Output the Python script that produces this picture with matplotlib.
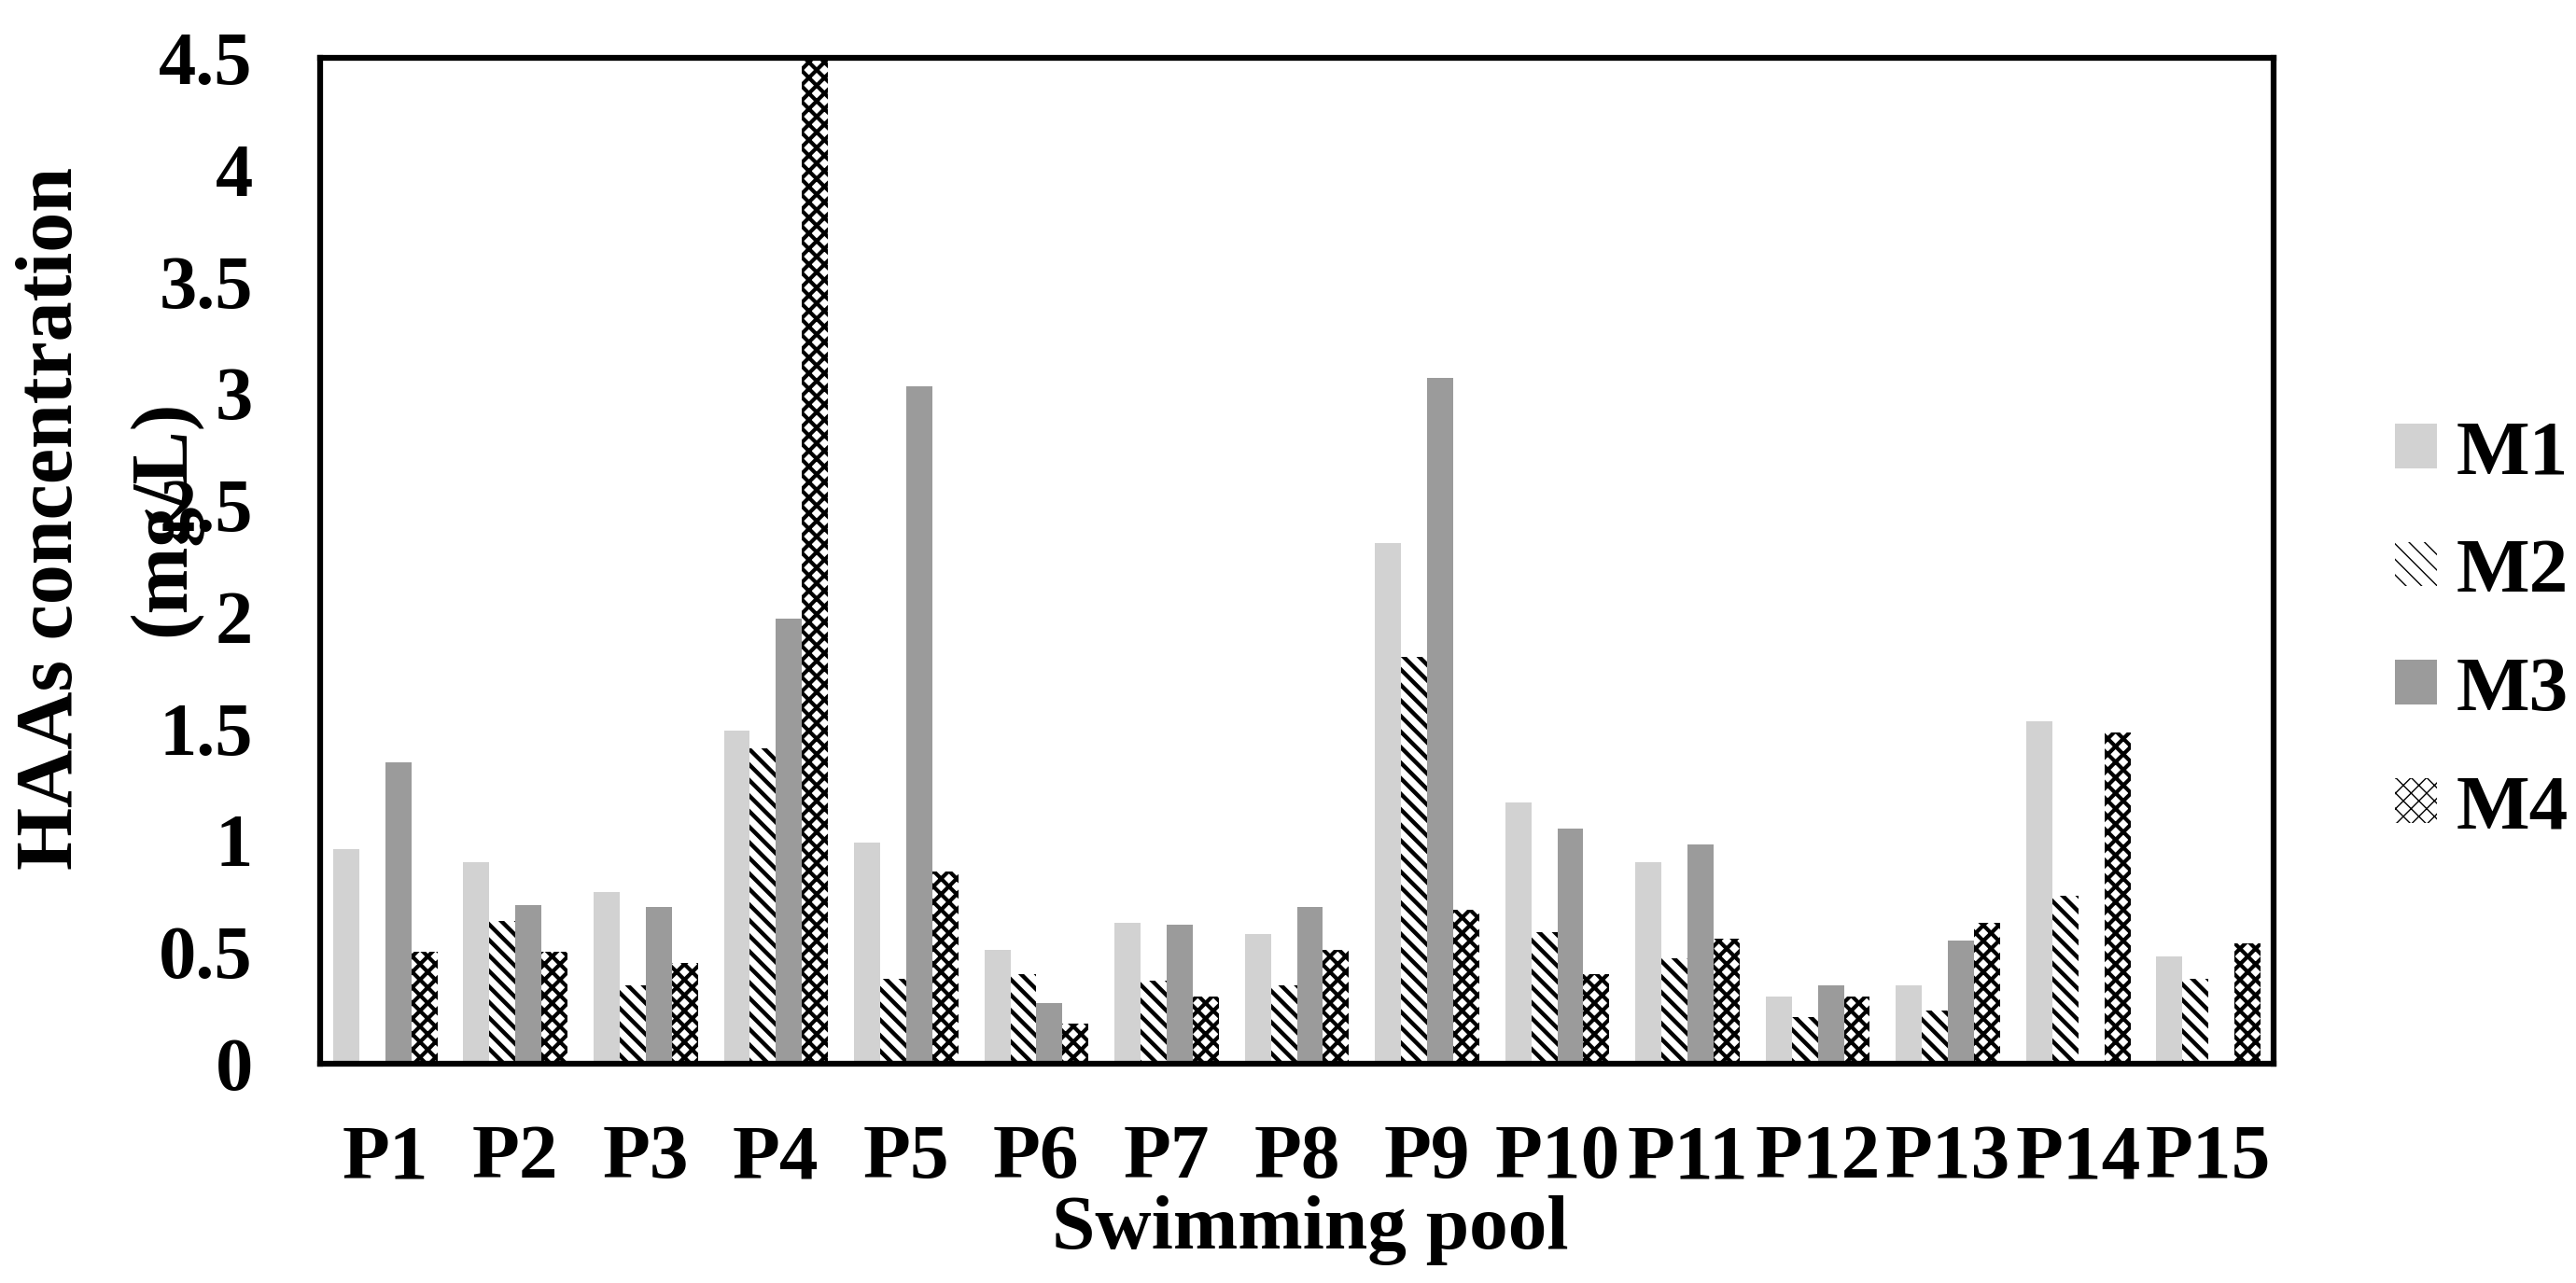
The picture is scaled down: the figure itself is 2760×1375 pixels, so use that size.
import numpy as np
import matplotlib
matplotlib.use('Agg')
import matplotlib.pyplot as plt

plt.rcParams['font.family'] = ['Liberation Serif', 'DejaVu Serif']
plt.rcParams['font.weight'] = 'bold'

pools = ['P1', 'P2', 'P3', 'P4', 'P5', 'P6', 'P7', 'P8',
         'P9', 'P10', 'P11', 'P12', 'P13', 'P14', 'P15']
m1 = [0.96, 0.90, 0.77, 1.49, 0.99, 0.51, 0.63, 0.58, 2.33, 1.17, 0.90, 0.30, 0.35, 1.53, 0.48]
m2 = [0.00, 0.64, 0.35, 1.41, 0.38, 0.40, 0.37, 0.35, 1.82, 0.59, 0.47, 0.21, 0.24, 0.75, 0.38]
m3 = [1.35, 0.71, 0.70, 1.99, 3.03, 0.27, 0.62, 0.70, 3.07, 1.05, 0.98, 0.35, 0.55, 0.00, 0.00]
m4 = [0.50, 0.50, 0.45, 4.60, 0.86, 0.18, 0.30, 0.51, 0.69, 0.40, 0.56, 0.30, 0.63, 1.48, 0.54]
series = ['M1', 'M2', 'M3', 'M4']
yticks = [0, 0.5, 1, 1.5, 2, 2.5, 3, 3.5, 4, 4.5]
ytick_labels = ['0', '0.5', '1', '1.5', '2', '2.5', '3', '3.5', '4', '4.5']

fig = plt.figure(figsize=(27.6, 13.75), dpi=100)
ax = fig.add_axes([343/2760, 1 - 1140/1375, (2436-343)/2760, (1140-62)/1375])

x = np.arange(len(pools))
w = 0.2
# fill colour / hatch for each series, and hatch line width
styles = [(dict(color='#d2d2d2'), 1.0),
          (dict(facecolor='white', edgecolor='black', hatch='\\\\', linewidth=0), 3.2),
          (dict(color='#9b9b9b'), 1.0),
          (dict(facecolor='white', edgecolor='black', hatch='xx', linewidth=0), 3.0)]
for i, (vals, name) in enumerate(zip([m1, m2, m3, m4], series)):
    kw, hlw = styles[i]
    with plt.rc_context({'hatch.linewidth': hlw}):
        ax.bar(x + (i - 1.5) * w, vals, w, label=name, **kw)

ax.set_xlim(-0.5, len(pools) - 0.5)
ax.set_ylim(0, 4.5)
ax.set_yticks(yticks)
ax.set_yticklabels(ytick_labels)
ax.set_xticks(x)
ax.set_xticklabels(pools)
ax.tick_params(axis='y', length=0, pad=52, labelsize=58)
ax.tick_params(axis='x', length=0, pad=47, labelsize=60)
for s in ax.spines.values():
    s.set_linewidth(4.5)

ax.set_xlabel('Swimming pool', fontsize=60, fontweight='bold')
ax.xaxis.set_label_coords(0.507, -0.131)
# two-line y label, one text per line
fig.text(0.0205, 0.596, 'HAAs concentration', rotation=90, ha='center', va='center',
         fontsize=62, fontweight='bold')
fig.text(0.0638, 0.596, '(mg/L)', rotation=90, ha='center', va='center',
         fontsize=62, fontweight='bold')

fig.legend(loc='center left', bbox_to_anchor=(2566/2760, 0.507), frameon=False,
           fontsize=60, handlelength=0.54, handleheight=0.5, handletextpad=0.25,
           labelspacing=0.62, borderpad=0, borderaxespad=0)

fig.savefig('out.png', dpi=100)
